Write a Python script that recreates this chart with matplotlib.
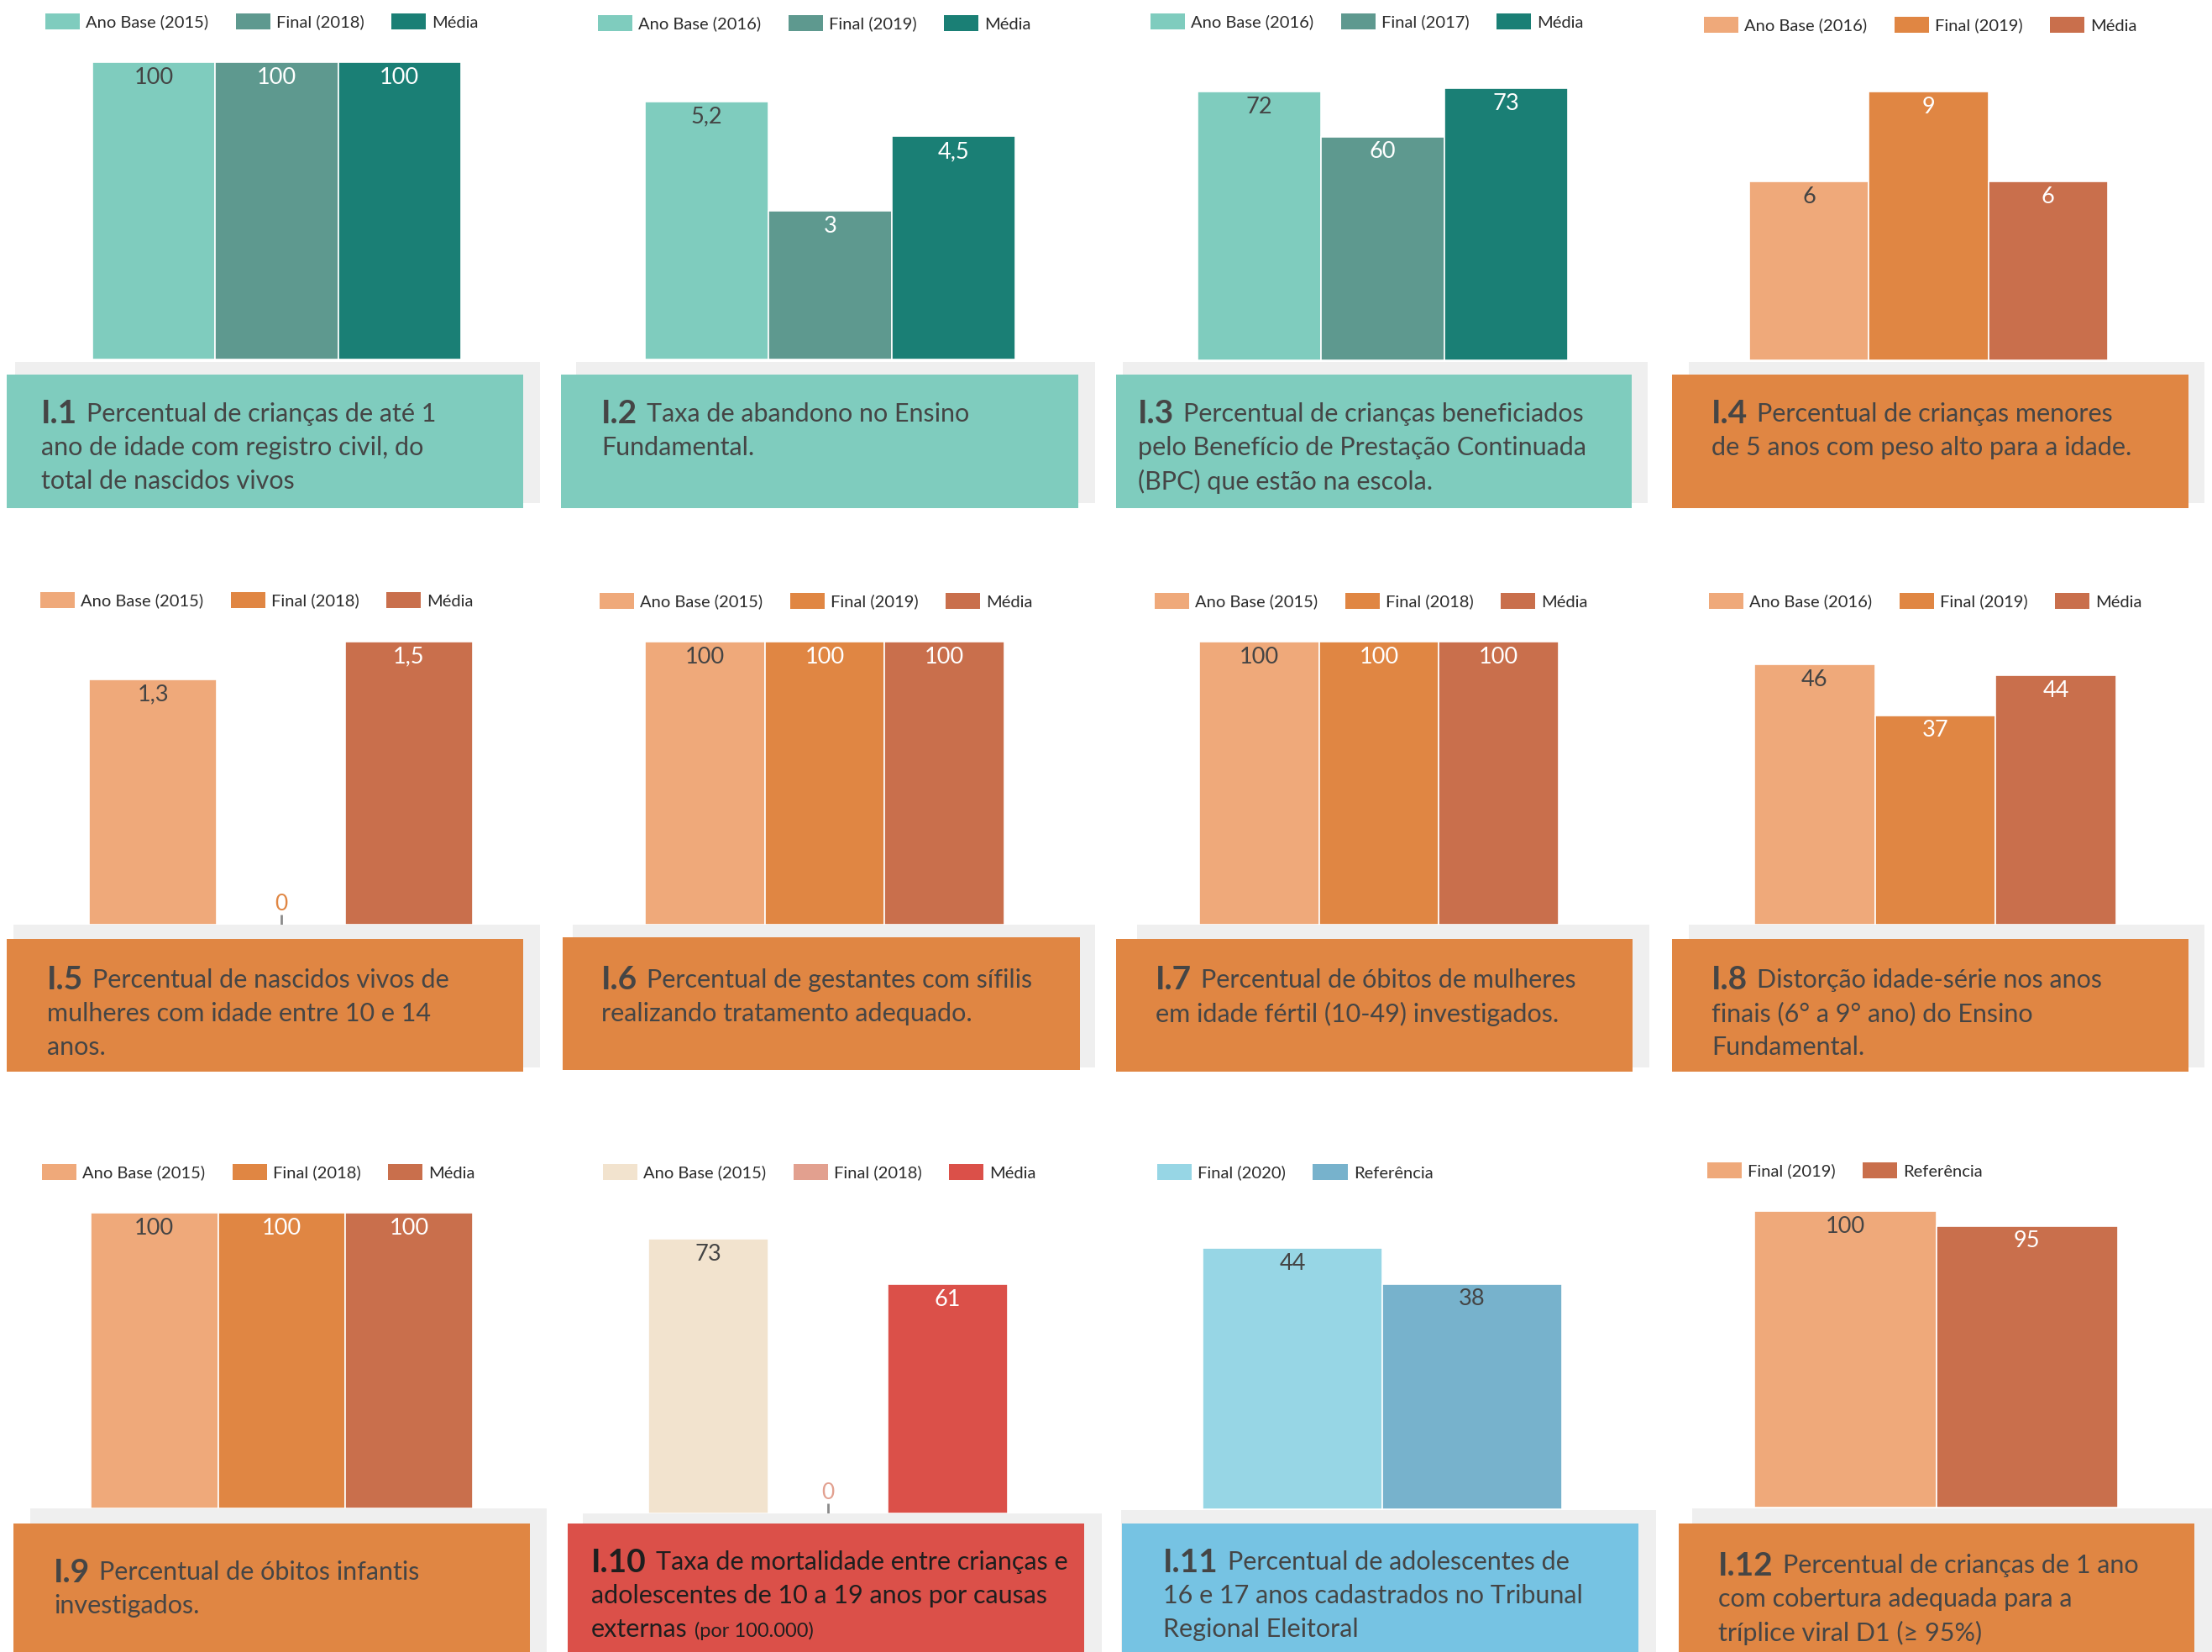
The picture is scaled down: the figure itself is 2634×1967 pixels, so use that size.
import matplotlib
matplotlib.use("Agg")
import matplotlib.pyplot as plt
from matplotlib.patches import Rectangle, Patch

plt.rcParams['font.family'] = ['Lato', 'DejaVu Sans']

# ---------------- data ----------------
legend_labels = [
    ['Ano Base (2015)', 'Final (2018)', 'Média'],
    ['Ano Base (2016)', 'Final (2019)', 'Média'],
    ['Ano Base (2016)', 'Final (2017)', 'Média'],
    ['Ano Base (2016)', 'Final (2019)', 'Média'],
    ['Ano Base (2015)', 'Final (2018)', 'Média'],
    ['Ano Base (2015)', 'Final (2019)', 'Média'],
    ['Ano Base (2015)', 'Final (2018)', 'Média'],
    ['Ano Base (2016)', 'Final (2019)', 'Média'],
    ['Ano Base (2015)', 'Final (2018)', 'Média'],
    ['Ano Base (2015)', 'Final (2018)', 'Média'],
    ['Final (2020)', 'Referência'],
    ['Final (2019)', 'Referência'],
]

bar_values = [
    [100, 100, 100],
    [5.2, 3, 4.5],
    [72, 60, 73],
    [6, 9, 6],
    [1.3, 0, 1.5],
    [100, 100, 100],
    [100, 100, 100],
    [46, 37, 44],
    [100, 100, 100],
    [73, 0, 61],
    [44, 38],
    [100, 95],
]

caption_num = ['I.1', 'I.2', 'I.3', 'I.4', 'I.5', 'I.6',
               'I.7', 'I.8', 'I.9', 'I.10', 'I.11', 'I.12']

caption_lines = [
    ['Percentual de crianças de até 1', 'ano de idade com registro civil, do', 'total de nascidos vivos'],
    ['Taxa de abandono no Ensino', 'Fundamental.'],
    ['Percentual de crianças beneficiados', 'pelo Benefício de Prestação Continuada', '(BPC) que estão na escola.'],
    ['Percentual de crianças menores', 'de 5 anos com peso alto para a idade.'],
    ['Percentual de nascidos vivos de', 'mulheres com idade entre 10 e 14', 'anos.'],
    ['Percentual de gestantes com sífilis', 'realizando tratamento adequado.'],
    ['Percentual de óbitos de mulheres', 'em idade fértil (10-49) investigados.'],
    ['Distorção idade-série nos anos', 'finais (6° a 9° ano) do Ensino', 'Fundamental.'],
    ['Percentual de óbitos infantis', 'investigados.'],
    ['Taxa de mortalidade entre crianças e', 'adolescentes de 10 a 19 anos por causas', 'externas'],
    ['Percentual de adolescentes de', '16 e 17 anos cadastrados no Tribunal', 'Regional Eleitoral'],
    ['Percentual de crianças de 1 ano', 'com cobertura adequada para a', 'tríplice viral D1 (≥ 95%)'],
]
caption_note = {9: '(por 100.000)'}

# ---------------- styles ----------------
teal = ['#7FCCBE', '#5E998F', '#1A7F75']
orange = ['#EFA97A', '#E08643', '#C96F4C']
red = ['#F2E3CE', '#E2A08F', '#DB5049']
blue = ['#97D6E5', '#77B2CC']
orange2 = ['#EFA97A', '#C96F4C']
palettes = [teal, teal, teal, orange, orange, orange, orange, orange,
            orange, red, blue, orange2]
box_colors = ['#7FCCBE'] * 3 + ['#E08643'] * 6 + ['#DB5049', '#76C3E3', '#E08643']
caption_color = ['#454545'] * 9 + ['#1E1E1E', '#454545', '#454545']
GRAY = '#EFEFEF'
DARK = '#444444'

# layout in pixels: legend x, legend y, bars x0, x1, axes top, bottom, ymax,
# gray box, caption box, text x, first caption line y
layout = [
    (54, 26, 110, 549, 74, 428, 100, (18, 431, 643, 599), (8, 446, 623, 605), 49, 493),
    (712, 28, 768, 1209, 74, 428, 6, (686, 431, 1304, 599), (668, 446, 1284, 605), 716, 493),
    (1370, 26, 1426, 1867, 74, 429, 80, (1337, 431, 1962, 599), (1329, 446, 1943, 605), 1355, 493),
    (2029, 30, 2083, 2510, 74, 429, 10, (2011, 431, 2625, 599), (1991, 446, 2606, 605), 2038, 493),
    (48, 715, 106, 563, 764, 1101, 1.5, (16, 1101, 643, 1271), (8, 1118, 623, 1276), 56, 1167),
    (714, 716, 768, 1196, 764, 1101, 100, (682, 1101, 1304, 1271), (670, 1116, 1286, 1274), 716, 1167),
    (1375, 716, 1428, 1856, 764, 1101, 100, (1354, 1101, 1964, 1271), (1329, 1118, 1944, 1276), 1376, 1167),
    (2035, 716, 2089, 2520, 764, 1101, 50, (2011, 1101, 2625, 1271), (1991, 1118, 2606, 1276), 2038, 1167),
    (50, 1396, 108, 563, 1444, 1796, 100, (36, 1796, 651, 1967), (16, 1814, 631, 1967), 64, 1872),
    (718, 1396, 772, 1200, 1444, 1802, 80, (694, 1802, 1312, 1967), (676, 1814, 1291, 1967), 704, 1860),
    (1378, 1396, 1432, 1860, 1444, 1797, 50, (1335, 1798, 1972, 1967), (1336, 1814, 1951, 1967), 1385, 1860),
    (2033, 1394, 2089, 2522, 1442, 1795, 100, (2015, 1796, 2634, 1967), (1999, 1814, 2613, 1967), 2046, 1864),
]

W, H = 2634, 1967
fig = plt.figure(figsize=(W / 100, H / 100), dpi=100)
renderer = fig.canvas.get_renderer()


def rect(box, color):
    x0, y0, x1, y1 = box
    fig.patches.append(Rectangle((x0 / W, 1 - y1 / H), (x1 - x0) / W, (y1 - y0) / H,
                                 transform=fig.transFigure, color=color, lw=0))


def fmt(v):
    return ('%g' % v).replace('.', ',')


LEG_FS = 14.5
for i, (lx, ly, bx0, bx1, top, bot, ymax, gray, box, tx, ty) in enumerate(layout):
    pal = palettes[i]
    vals = bar_values[i]

    # bars
    ax = fig.add_axes([bx0 / W, 1 - bot / H, (bx1 - bx0) / W, (bot - top) / H])
    ax.set_axis_off()
    ax.set_xlim(-0.5, len(vals) - 0.5)
    ax.set_ylim(0, ymax)
    xs = range(len(vals))
    ax.bar(xs, vals, width=1.0, color=pal, edgecolor='white', linewidth=1.2)
    px_per_unit = (bot - top) / ymax
    for j, v in enumerate(vals):
        if v == 0:
            ax.plot([j, j], [0, 12 / px_per_unit], color='#8A8A8A', lw=2, solid_capstyle='butt')
            ax.annotate('0', (j, 0), xytext=(0, 18), textcoords='offset points',
                        ha='center', va='center', fontsize=19, color=pal[j])
            continue
        c = DARK if (j == 0 or i == 10) else 'white'
        ax.annotate(fmt(v), (j, v), xytext=(0, -13), textcoords='offset points',
                    ha='center', va='center', fontsize=19.5, color=c)

    # legend
    handles = [Patch(facecolor=pal[k], edgecolor='none') for k in range(len(legend_labels[i]))]
    fig.legend(handles, legend_labels[i], loc='center left',
               bbox_to_anchor=(lx / W, 1 - ly / H), bbox_transform=fig.transFigure,
               ncol=len(handles), frameon=False, fontsize=LEG_FS,
               handlelength=2.05, handleheight=1.05, handletextpad=0.35,
               columnspacing=1.6, borderpad=0, borderaxespad=0, labelcolor='#2B2B2B')

    # caption boxes
    rect(gray, GRAY)
    rect(box, box_colors[i])

    col = caption_color[i]
    t = fig.text(tx / W, 1 - ty / H, caption_num[i], fontsize=28, fontweight='bold',
                 color=col, va='center', ha='left')
    ext = t.get_window_extent(renderer=renderer)
    x_first = ext.x1 + 11
    for k, line in enumerate(caption_lines[i]):
        x = x_first if k == 0 else tx
        y = ty + 40 * k
        tl = fig.text(x / W, 1 - y / H, line, fontsize=22, color=col, va='center', ha='left')
        if i in caption_note and k == len(caption_lines[i]) - 1:
            e2 = tl.get_window_extent(renderer=renderer)
            fig.text((e2.x1 + 8) / W, 1 - (y + 2) / H, caption_note[i], fontsize=17,
                     color=col, va='center', ha='left')

fig.savefig('out.png', dpi=100, facecolor='white')
